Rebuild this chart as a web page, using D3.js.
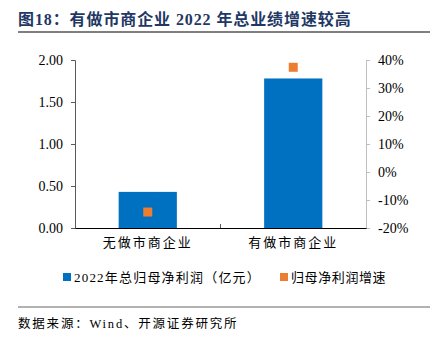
<!DOCTYPE html>
<html><head><meta charset="utf-8">
<script src="https://cdn.jsdelivr.net/npm/d3@7"></script>
<style>
body{margin:0;background:#fff;}
svg{display:block;}
</style></head>
<body>
<svg id="c" width="435" height="341"></svg>
<script>
const categories = ["无做市商企业", "有做市商企业"];
const profit = [0.43, 1.78];
const growth = [-14.3, 37.4];
const leftTicks = [0, 0.5, 1.0, 1.5, 2.0];
const rightTicks = [-20, -10, 0, 10, 20, 30, 40];
const seriesNames = ["2022年总归母净利润（亿元）", "归母净利润增速"];
const title = "图18：有做市商企业 2022 年总业绩增速较高";
const source = "数据来源：Wind、开源证券研究所";

const serif = "'Liberation Serif','Noto Sans CJK SC',serif";
const cjk = "'Noto Sans CJK SC','Liberation Serif',sans-serif";
const svg = d3.select("#c");
const m = {l:75, r:366, t:60, b:228};

const x = d3.scaleBand().domain(categories).range([m.l, m.r]).paddingInner(0.6).paddingOuter(0.3);
const yL = d3.scaleLinear().domain([0, 2]).range([m.b, m.t]);
const yR = d3.scaleLinear().domain([-20, 40]).range([m.b, m.t]);

// title
svg.append("text").attr("x", 18).attr("y", 25).attr("font-family", serif)
  .attr("font-size", 16).attr("font-weight", "bold").attr("fill", "#1f3864")
  .attr("letter-spacing", "0.9px").text(title);
svg.append("line").attr("x1", 18).attr("x2", 430).attr("y1", 32).attr("y2", 32)
  .attr("stroke", "#000").attr("stroke-width", 1.2);

// bars
svg.selectAll("rect.bar").data(profit).join("rect").attr("class", "bar")
  .attr("x", (d,i) => x(categories[i])).attr("width", x.bandwidth())
  .attr("y", d => yL(d)).attr("height", d => yL(0) - yL(d)).attr("fill", "#0070c0");

// markers
const ms = 9;
svg.selectAll("rect.mk").data(growth).join("rect").attr("class", "mk")
  .attr("x", (d,i) => x(categories[i]) + x.bandwidth()/2 - ms/2).attr("width", ms)
  .attr("y", d => yR(d) - ms/2).attr("height", ms).attr("fill", "#ed7d31");

// left axis
const gL = svg.append("g").attr("transform", `translate(${m.l},0)`)
  .call(d3.axisLeft(yL).tickValues(leftTicks).tickFormat(d3.format(".2f")).tickSizeOuter(0).tickSize(4).tickPadding(8));
gL.select(".domain").attr("stroke", "#595959");
gL.selectAll(".tick line").attr("stroke", "#595959");
gL.selectAll("text").attr("font-family", serif).attr("font-size", 14).attr("fill", "#000");

// right axis
const gR = svg.append("g").attr("transform", `translate(${m.r},0)`)
  .call(d3.axisRight(yR).tickValues(rightTicks).tickFormat(d => d + "%").tickSizeOuter(0).tickSize(4).tickPadding(8));
gR.select(".domain").attr("stroke", "#bfbfbf");
gR.selectAll(".tick line").attr("stroke", "#bfbfbf");
gR.selectAll("text").attr("font-family", serif).attr("font-size", 14).attr("fill", "#000");

// bottom axis
const gB = svg.append("g").attr("transform", `translate(0,${m.b})`)
  .call(d3.axisBottom(x).tickSize(0).tickPadding(10));
gB.select(".domain").attr("stroke", "#000").attr("stroke-width", 1.2);
gB.selectAll("text").attr("font-family", cjk).attr("font-size", 13).attr("fill", "#000").attr("letter-spacing", "2px");
// category separator tick
const sepX = (x(categories[0]) + x.bandwidth() + x(categories[1]))/2;
svg.append("line").attr("x1", sepX).attr("x2", sepX)
  .attr("y1", m.b).attr("y2", m.b - 4).attr("stroke", "#595959");

// legend
const lg = svg.append("g");
const legendX = [63, 280];
const legendSpacing = ["1.2px", "0.6px"];
seriesNames.forEach((n, i) => {
  lg.append("rect").attr("x", legendX[i]).attr("y", 273).attr("width", 8).attr("height", 8)
    .attr("fill", i === 0 ? "#0070c0" : "#ed7d31");
  lg.append("text").attr("x", legendX[i] + 11).attr("y", 282).attr("font-family", serif)
    .attr("font-size", 13).attr("fill", "#000").attr("letter-spacing", legendSpacing[i]).text(n);
});

// bottom rule & source
svg.append("line").attr("x1", 18).attr("x2", 430).attr("y1", 307).attr("y2", 307)
  .attr("stroke", "#999").attr("stroke-width", 1.5);
svg.append("text").attr("x", 18).attr("y", 328).attr("font-family", serif)
  .attr("font-size", 12.5).attr("fill", "#000").attr("letter-spacing", "1.8px").text(source);
</script>
</body></html>
